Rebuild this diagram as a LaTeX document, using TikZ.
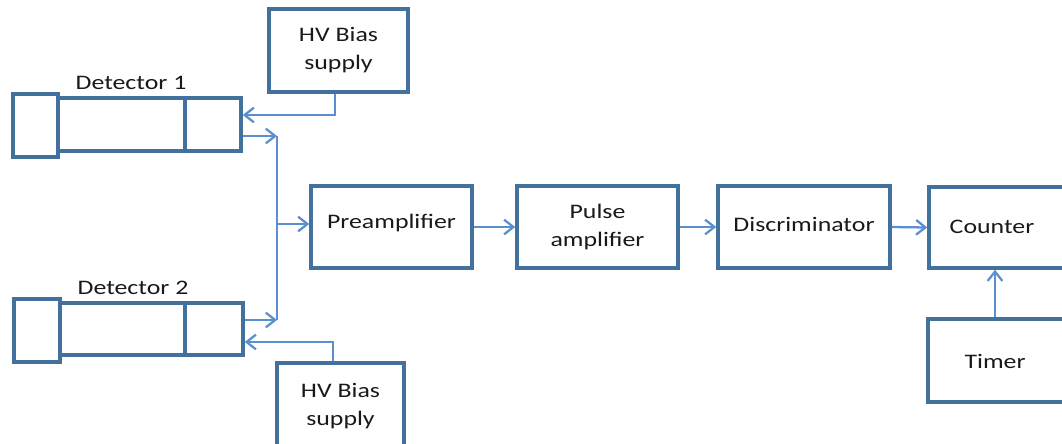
\documentclass[tikz,border=0pt]{standalone}
\usepackage{fontspec}
\setmainfont{Carlito}[FakeStretch=1.25]
\usetikzlibrary{arrows.meta}
\definecolor{boxc}{HTML}{41719C}
\definecolor{arrc}{HTML}{5B8FD0}
\begin{document}
\begin{tikzpicture}[x=0.75pt,y=-0.75pt,
  box/.style={draw=boxc, line width=2.6pt, rectangle, inner sep=0pt, align=center,
    font=\fontsize{15.5}{21}\selectfont, text=black!90},
  txt/.style={inner sep=0pt, align=center, font=\fontsize{15.5}{21}\selectfont, text=black!90},
  conn/.style={draw=arrc, line width=1.7pt, -{Straight Barb[length=7pt,width=11pt,line width=1.7pt]}},
  wire/.style={draw=arrc, line width=1.7pt}]
\useasboundingbox (0,0) rectangle (1062,443);
\clip (0,0) rectangle (1062,443);
% HV supplies
\node[box, minimum width=104.25pt, minimum height=62.25pt] (hv1) at (338.5,50.5) {HV Bias\\supply};
\node[box, minimum width=95.25pt, minimum height=65.25pt] (hv2) at (340.5,406.5) {HV Bias\\supply};
% Detector 1
\node[box, minimum width=33.75pt, minimum height=47.25pt] (d1cap) at (35.5,125.5) {};
\node[box, minimum width=95.25pt, minimum height=39.75pt] (d1body) at (121.5,124.5) {};
\node[box, minimum width=42pt, minimum height=39.75pt] (d1win) at (213,124.5) {};
\node[txt] (d1lbl) at (131,83) {Detector 1};
% Detector 2
\node[box, minimum width=34.5pt, minimum height=47.25pt] (d2cap) at (37,330.5) {};
\node[box, minimum width=93.75pt, minimum height=39pt] (d2body) at (122.5,329) {};
\node[box, minimum width=43.5pt, minimum height=39pt] (d2win) at (214,329) {};
\node[txt] (d2lbl) at (133,288) {Detector 2};
% Chain
\node[box, minimum width=120.75pt, minimum height=61.5pt] (pre) at (391.5,227) {};
\node[txt] (pret) at (391.5,223) {Preamplifier};
\node[box, minimum width=120.75pt, minimum height=61.5pt] (pulse) at (597.5,227) {Pulse\\amplifier};
\node[box, minimum width=129pt, minimum height=61.5pt] (disc) at (804,227) {};
\node[txt] (disct) at (804,224) {Discriminator};
\node[box, minimum width=113.25pt, minimum height=60.75pt] (counter) at (1004.5,227.5) {};
\node[txt] (countert) at (992,227) {Counter};
\node[box, minimum width=114pt, minimum height=62.25pt] (timer) at (1004,360.5) {};
\node[txt] (timert) at (995,361) {Timer};
% coordinates
\coordinate (j1) at (277,136);
\coordinate (j2) at (277,320);
\coordinate (j3) at (277,224);
\coordinate (h1) at (335,115);
\coordinate (h2) at (333,342);
\coordinate (t) at (995,0);
% connectors
\draw[conn] (hv1.south -| h1) -- (h1) -- (d1win.east |- h1);
\draw[conn] (hv2.north -| h2) -- (h2) -- (d2win.east |- h2);
\draw[conn] (d1win.east |- j1) -- (j1);
\draw[conn] (d2win.east |- j2) -- (j2);
\draw[wire] (j1) -- (j2);
\draw[conn] (j3) -- (pre.west |- j3);
\draw[conn] (pre.east) -- (pulse.west);
\draw[conn] (pulse.east) -- (disc.west);
\draw[conn] (disc.east) -- (counter.west);
\draw[conn] (timer.north -| t) -- (counter.south -| t);
\end{tikzpicture}
\end{document}
